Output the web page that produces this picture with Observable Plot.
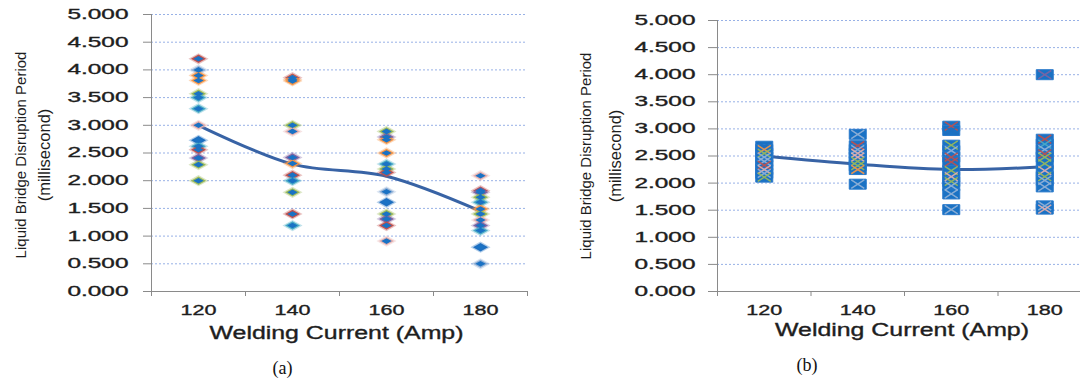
<!DOCTYPE html>
<html><head><meta charset="utf-8">
<script src="https://cdn.jsdelivr.net/npm/d3@7"></script>
<script src="https://cdn.jsdelivr.net/npm/@observablehq/plot@0.6"></script>
<style>
body{margin:0;background:#fff;}
#wrap{position:relative;width:1080px;height:380px;overflow:hidden;background:#fff;}
#wrap svg{position:absolute;top:0;max-width:none !important;}
</style></head><body><div id="wrap"></div>
<script>
// ---------- data ----------
const currents = [120, 140, 160, 180];
const yTicks = [0, 0.5, 1, 1.5, 2, 2.5, 3, 3.5, 4, 4.5, 5];
const gridTicks = [0.5, 1, 1.5, 2, 2.5, 3, 3.5, 4, 4.5, 5];
const bandEdges = [110, 130, 150, 170, 190];
const xTitle = "Welding Current (Amp)";
const yTitle1 = "Liquid Bridge Disruption Period";
const yTitle2 = "(millisecond)";
const seriesNames = ["S1", "S2", "S3", "S4", "S5", "S6", "S7", "S8"];

// panel (a) – disruption periods per current
const a120 = [4.20, 4.00, 3.90, 3.81, 3.57, 3.50, 3.30, 3.00, 2.73, 2.62, 2.56, 2.41, 2.29, 2.00];
const a120s = ["S1", "S7", "S2", "S2", "S3", "S5", "S5", "S6", "S8", "S5", "S1", "S4", "S3", "S3"];
const a140 = [3.86, 3.82, 3.80, 3.00, 2.89, 2.42, 2.31, 2.10, 2.00, 1.79, 1.40, 1.19];
const a140s = ["S1", "S2", "S2", "S3", "S6", "S4", "S2", "S1", "S5", "S3", "S1", "S5"];
const a160 = [2.89, 2.79, 2.74, 2.50, 2.30, 2.21, 2.15, 1.80, 1.61, 1.40, 1.31, 1.19, 0.91];
const a160s = ["S3", "S4", "S2", "S2", "S5", "S3", "S1", "S7", "S8", "S3", "S4", "S1", "S6"];
const a180 = [2.09, 1.82, 1.79, 1.70, 1.61, 1.49, 1.40, 1.29, 1.19, 1.10, 0.80, 0.50];
const a180s = ["S6", "S1", "S4", "S3", "S5", "S2", "S3", "S6", "S4", "S5", "S8", "S7"];
const trendA = [3.00, 2.30, 2.08, 1.45];

// panel (b)
const b120 = [2.68, 2.62, 2.55, 2.48, 2.40, 2.33, 2.25, 2.18, 2.11];
const b120s = ["S8", "S2", "S3", "S7", "S7", "S1", "S6", "S7", "S3"];
const b140 = [2.90, 2.69, 2.62, 2.55, 2.48, 2.40, 2.32, 2.25, 1.98];
const b140s = ["S7", "S1", "S7", "S6", "S6", "S3", "S3", "S2", "S7"];
const b160 = [3.05, 2.97, 2.70, 2.60, 2.48, 2.39, 2.23, 2.12, 2.03, 1.95, 1.80, 1.51];
const b160s = ["S1", "S8", "S3", "S7", "S1", "S1", "S3", "S6", "S3", "S7", "S7", "S7"];
const b180 = [4.00, 2.81, 2.72, 2.62, 2.54, 2.48, 2.36, 2.23, 2.12, 2.05, 1.93, 1.58, 1.52];
const b180s = ["S4", "S1", "S5", "S7", "S1", "S3", "S3", "S6", "S3", "S7", "S7", "S7", "S6"];
const trendB = [2.50, 2.35, 2.25, 2.30];

// ---------- styles ----------
const seriesColors = ["#c0504d", "#f79646", "#9bbb59", "#8064a2", "#4bacc6", "#e6b0ae", "#95b3d7", "#1f6fc0"];
const core = "#1a72c4";
const lineColor = "#3863a5";
const gridColor = "#98b1e6";
const axisColor = "#8a8a8a";
const textColor = "#1e1e1e";
const font = "'Liberation Sans', Arial, sans-serif";

const rows = (c, vals, ser) => vals.map((v, i) => ({current: c, period: v, series: ser[i]}));
const dataA = [...rows(120, a120, a120s), ...rows(140, a140, a140s), ...rows(160, a160, a160s), ...rows(180, a180, a180s)];
const dataB = [...rows(120, b120, b120s), ...rows(140, b140, b140s), ...rows(160, b160, b160s), ...rows(180, b180, b180s)];
const trendRows = (t) => currents.map((c, i) => ({current: c, period: t[i]}));

const diamond = (w, h) => ({draw(ctx) { ctx.moveTo(-w, 0); ctx.lineTo(0, -h); ctx.lineTo(w, 0); ctx.lineTo(0, h); ctx.closePath(); }});
const rect = (w, h) => ({draw(ctx) { ctx.moveTo(-w, -h); ctx.lineTo(w, -h); ctx.lineTo(w, h); ctx.lineTo(-w, h); ctx.closePath(); }});
const cross = (w, h) => ({draw(ctx) { ctx.moveTo(-w, -h); ctx.lineTo(w, h); ctx.moveTo(-w, h); ctx.lineTo(w, -h); }});

function commonMarks(o) {
  return [
    Plot.gridY(gridTicks, {stroke: gridColor, strokeOpacity: 1, strokeDasharray: "2,2", strokeWidth: 1}),
    Plot.ruleY([0], {stroke: axisColor}),
    Plot.ruleX([110], {stroke: axisColor}),
    Plot.axisY(yTicks, {tickSize: o.yTickSize, tickPadding: o.yPad, tickFormat: d3.format(".3f"), fontSize: 14, stroke: axisColor, fill: textColor, label: null}),
    Plot.axisX(bandEdges, {tickSize: 5, tickFormat: () => "", stroke: axisColor, label: null}),
    Plot.axisX(currents, {tickSize: 0, tickPadding: o.xPad, fontSize: 14.5, fill: textColor, label: null}),
    Plot.text([yTitle1], {frameAnchor: "left", textAnchor: "middle", lineAnchor: "middle", rotate: -90, dx: o.t1dx, dy: o.tdy, fontSize: 15, fill: textColor}),
    Plot.text([yTitle2], {frameAnchor: "left", textAnchor: "middle", lineAnchor: "middle", rotate: -90, dx: o.t2dx, dy: o.tdy, fontSize: 16.5, fill: textColor}),
    Plot.text([xTitle], {frameAnchor: "bottom", textAnchor: "middle", lineAnchor: "middle", dx: o.xtdx, dy: o.xtdy, fontSize: 17.5, fill: textColor}),
    Plot.text([o.caption], {frameAnchor: "bottom", textAnchor: "middle", lineAnchor: "middle", dx: o.cdx, dy: o.cdy, fontSize: 18, fill: "#111", fontFamily: "'Liberation Serif', 'Times New Roman', serif"})
  ];
}

const plotA = Plot.plot({
  width: 540, height: 380,
  marginLeft: 151, marginRight: 13, marginTop: 14, marginBottom: 89,
  style: {fontFamily: font, background: "transparent", overflow: "visible"},
  x: {domain: [110, 190], axis: null},
  y: {domain: [0, 5], axis: null},
  color: {domain: seriesNames, range: seriesColors},
  marks: [
    ...commonMarks({yTickSize: 8, yPad: 15, xPad: 13, t1dx: -130, t2dx: -107, tdy: 2, xtdx: -3, xtdy: 42, caption: "(a)", cdx: -57, cdy: 77}),
    Plot.line(trendRows(trendA), {x: "current", y: "period", curve: "catmull-rom", stroke: lineColor, strokeWidth: 3}),
    Plot.dot(dataA, {x: "current", y: "period", fill: "series", stroke: "series", strokeOpacity: 0.35, strokeWidth: 2.5, symbol: diamond(7.5, 4.2)}),
    Plot.dot(dataA, {x: "current", y: "period", fill: core, symbol: diamond(5.2, 2.8)})
  ]
});

const plotB = Plot.plot({
  width: 540, height: 380,
  marginLeft: 177, marginRight: 0, marginTop: 20, marginBottom: 89,
  style: {fontFamily: font, background: "transparent", overflow: "visible"},
  x: {domain: [110, 190], range: [177, 551], axis: null},
  y: {domain: [0, 5], axis: null},
  color: {domain: seriesNames, range: seriesColors},
  marks: [
    ...commonMarks({yTickSize: 9, yPad: 13, xPad: 13, t1dx: -131, t2dx: -102, tdy: 0, xtdx: 3, xtdy: 39, caption: "(b)", cdx: -92, cdy: 74}),
    Plot.line(trendRows(trendB), {x: "current", y: "period", curve: "catmull-rom", stroke: lineColor, strokeWidth: 3}),
    Plot.dot(dataB, {x: "current", y: "period", fill: core, stroke: "#2a7acb", strokeWidth: 1, symbol: rect(8.5, 5)}),
    Plot.dot(dataB, {x: "current", y: "period", fill: "none", stroke: "series", strokeWidth: 1.5, strokeOpacity: 0.9, symbol: cross(6.5, 4.2)})
  ]
});

const wrap = document.getElementById("wrap");
plotA.style.left = "0px";
plotB.style.left = "540px";
wrap.appendChild(plotA);
wrap.appendChild(plotB);

// horizontally stretched typography of the original
const stretch = [
  [/^\d\.\d{3}$/, 61],
  [/^1\d0$/, 36],
  [/^Welding/, 254]
];
for (const svg of [plotA, plotB]) {
  svg.querySelectorAll("text").forEach(t => {
    const s = t.textContent.trim();
    for (const [re, len] of stretch) {
      if (re.test(s)) {
        t.setAttribute("textLength", len);
        t.setAttribute("lengthAdjust", "spacingAndGlyphs");
        t.setAttribute("stroke", textColor);
        t.setAttribute("stroke-width", "0.35");
        break;
      }
    }
  });
}
</script></body></html>
